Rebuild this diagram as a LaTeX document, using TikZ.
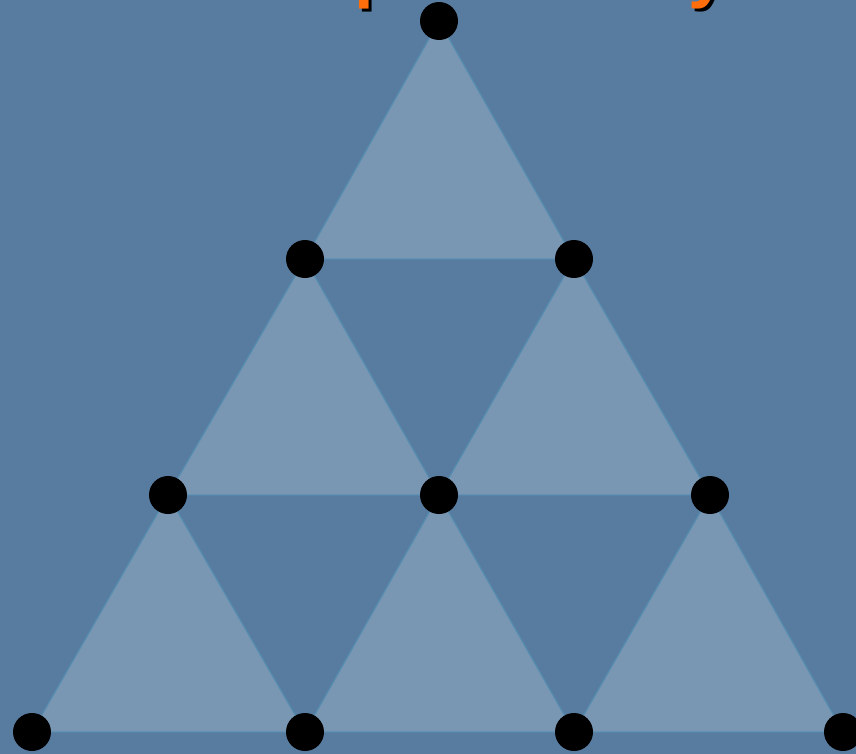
\documentclass[tikz,border=0pt]{standalone}
\usepackage{fontspec}
\setmainfont{Liberation Sans}
\definecolor{bgblue}{RGB}{88,124,160}
\definecolor{edgeblue}{RGB}{82,140,176}
\definecolor{titleorange}{RGB}{255,110,10}
\begin{document}
\begin{tikzpicture}[x=0.02cm,y=-0.02cm,
  dot/.style={circle,fill=black,minimum size=38*0.02cm,inner sep=0pt},
  uptri/.style={fill=white,fill opacity=0.2,draw=edgeblue,draw opacity=0.8,line width=0.8pt},
  titletext/.style={font=\bfseries\fontsize{40}{44}\selectfont,inner sep=0pt,anchor=base west}]
\useasboundingbox (0,0) rectangle (856,754);
\clip (0,0) rectangle (856,754);
\fill[bgblue] (0,0) rectangle (856,754);
% title fragments (descenders of cut-off title)
\node[titletext,text=black] (tps) at (357,-3) {p};
\node[titletext,text=titleorange] (tp) at (354,-6) {p};
\node[titletext,text=black] (tys) at (691,-3) {y};
\node[titletext,text=titleorange] (ty) at (688,-6) {y};
% vertices
\coordinate (a) at (439,21);
\coordinate (b1) at (305,259);
\coordinate (b2) at (574,259);
\coordinate (c1) at (168,495);
\coordinate (c2) at (439,495);
\coordinate (c3) at (710,495);
\coordinate (d1) at (32,732);
\coordinate (d2) at (305,732);
\coordinate (d3) at (574,732);
\coordinate (d4) at (843,732);
% upward triangles
\filldraw[uptri] (a) -- (b1) -- (b2) -- cycle;
\filldraw[uptri] (b1) -- (c1) -- (c2) -- cycle;
\filldraw[uptri] (b2) -- (c2) -- (c3) -- cycle;
\filldraw[uptri] (c1) -- (d1) -- (d2) -- cycle;
\filldraw[uptri] (c2) -- (d2) -- (d3) -- cycle;
\filldraw[uptri] (c3) -- (d3) -- (d4) -- cycle;
% dots
\foreach \p in {a,b1,b2,c1,c2,c3,d1,d2,d3,d4}
  \node[dot] (n\p) at (\p) {};
\end{tikzpicture}
\end{document}
